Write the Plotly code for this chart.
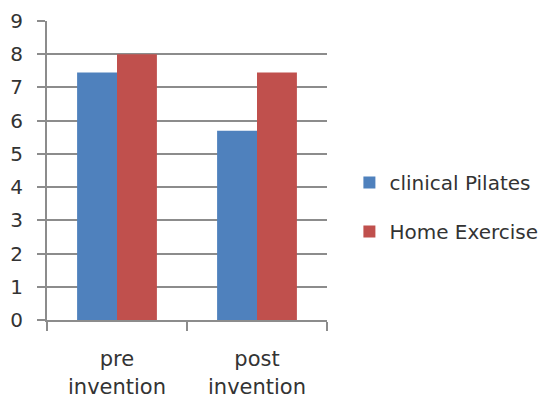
import plotly.graph_objects as go

categories = ["pre<br>invention", "post<br>invention"]
clinical_pilates = [7.45, 5.7]
home_exercise = [8.0, 7.45]
y_ticks = [0, 1, 2, 3, 4, 5, 6, 7, 8, 9]

axis_grey = "#8c8c8c"
text_col = "#333333"
font_family = "DejaVu Sans"

fig = go.Figure()
fig.add_trace(go.Bar(name="clinical Pilates", x=categories, y=clinical_pilates,
                     marker=dict(color="#4f81bd", line=dict(width=0)),
                     legendgroup="a"))
fig.add_trace(go.Bar(name="Home Exercise", x=categories, y=home_exercise,
                     marker=dict(color="#c0504d", line=dict(width=0)),
                     legendgroup="b"))

fig.update_layout(
    width=550, height=399,
    margin=dict(l=47, r=223, t=21, b=79, autoexpand=False),
    paper_bgcolor="white", plot_bgcolor="white",
    barmode="group", bargap=0.43, bargroupgap=0,
    font=dict(family=font_family, size=20, color=text_col),
    showlegend=True,
    legend=dict(x=1.08, y=0.378, xanchor="left", yanchor="middle",
                traceorder="grouped", tracegroupgap=20,
                font=dict(family=font_family, size=20, color=text_col),
                itemwidth=30),
    xaxis=dict(showline=True, linecolor=axis_grey, linewidth=2,
               ticks="outside", ticklen=9, tickcolor=axis_grey, tickwidth=2,
               tickson="boundaries", showgrid=False, ticklabelstandoff=19,
               automargin=False,
               tickfont=dict(family=font_family, size=21, color=text_col)),
    yaxis=dict(range=[0, 9], tickvals=y_ticks, showline=True,
               linecolor=axis_grey, linewidth=2,
               ticks="outside", ticklen=8, tickcolor=axis_grey, tickwidth=2,
               showgrid=True, gridcolor=axis_grey, gridwidth=2,
               zeroline=False, ticklabelstandoff=10, automargin=False,
               tickfont=dict(family=font_family, size=20, color=text_col)),
)

fig.write_html("out.html")
